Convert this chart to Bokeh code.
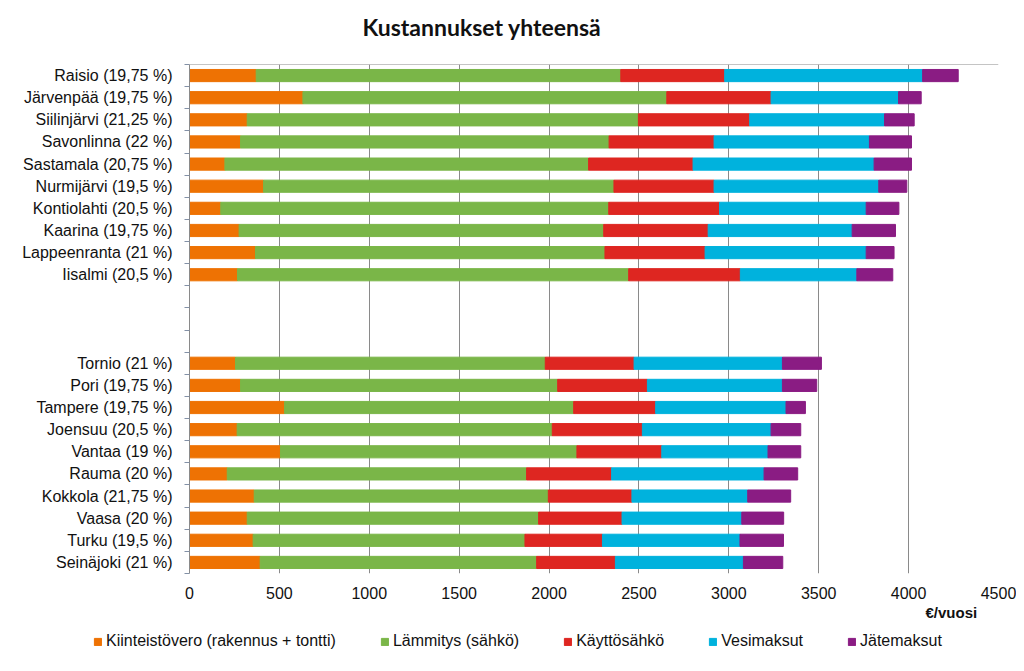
from bokeh.plotting import figure
from bokeh.layouts import column
from bokeh.models import ColumnDataSource, FixedTicker, Range1d, Span, Title
from bokeh.embed import file_html
from bokeh.resources import INLINE

# ---------------- data ----------------
top_cities = ["Raisio (19,75 %)", "Järvenpää (19,75 %)", "Siilinjärvi (21,25 %)",
              "Savonlinna (22 %)", "Sastamala (20,75 %)", "Nurmijärvi (19,5 %)",
              "Kontiolahti (20,5 %)", "Kaarina (19,75 %)", "Lappeenranta (21 %)",
              "Iisalmi (20,5 %)"]
bottom_cities = ["Tornio (21 %)", "Pori (19,75 %)", "Tampere (19,75 %)",
                 "Joensuu (20,5 %)", "Vantaa (19 %)", "Rauma (20 %)",
                 "Kokkola (21,75 %)", "Vaasa (20 %)", "Turku (19,5 %)",
                 "Seinäjoki (21 %)"]
cities = top_cities + bottom_cities

kiinteistovero = [371, 631, 321, 284, 197, 412, 174, 276, 367, 267,
                  256, 284, 529, 265, 506, 210, 360, 321, 354, 393]
lammitys = [2028, 2024, 2176, 2050, 2023, 1949, 2158, 2028, 1944, 2176,
            1723, 1764, 1608, 1753, 1649, 1665, 1636, 1621, 1512, 1538]
kayttosahko = [578, 580, 619, 584, 581, 557, 616, 581, 557, 621,
               494, 499, 456, 501, 472, 473, 465, 464, 431, 438]
vesimaksut = [1101, 709, 750, 864, 1007, 916, 816, 801, 896, 648,
              825, 751, 725, 716, 591, 848, 644, 666, 765, 712]
jatemaksut = [198, 126, 165, 234, 208, 156, 182, 241, 155, 200,
              217, 191, 108, 165, 182, 187, 239, 233, 242, 219]

series_names = ["Kiinteistövero (rakennus + tontti)", "Lämmitys (sähkö)",
                "Käyttösähkö", "Vesimaksut", "Jätemaksut"]
series_keys = ["kiinteistovero", "lammitys", "kayttosahko", "vesimaksut", "jatemaksut"]
colors = ["#EE7203", "#7AB648", "#DE2621", "#00B2DD", "#8A1C83"]
x_ticks = [0, 500, 1000, 1500, 2000, 2500, 3000, 3500, 4000, 4500]
title_text = "Kustannukset yhteensä"
x_unit = "€/vuosi"

# ---------------- layout of rows (10 + 3 empty + 10) ----------------
n_gap = 3
n_rows = len(top_cities) + n_gap + len(bottom_cities)
row_index = list(range(len(top_cities))) + \
    list(range(len(top_cities) + n_gap, n_rows))
y_centers = [r + 0.5 for r in row_index]

source = ColumnDataSource(dict(
    y=y_centers, city=cities,
    kiinteistovero=kiinteistovero, lammitys=lammitys,
    kayttosahko=kayttosahko, vesimaksut=vesimaksut, jatemaksut=jatemaksut))

GRID = "#8a8a8a"
TXT = "#111111"
FONT = "Liberation Sans"

p = figure(frame_width=809, frame_height=509,
           x_range=Range1d(0, 4500), y_range=Range1d(n_rows, 0),
           output_backend="svg", toolbar_location=None,
           min_border_left=189, min_border_right=18,
           min_border_top=64, min_border_bottom=52)
p.outline_line_color = None
p.background_fill_color = "white"

p.hbar_stack(series_keys, y="y", height=0.55, color=colors, source=source)

# spacer between frame and title
p.add_layout(Title(text=" ", text_font_size="15px", standoff=0), "above")

# title
p.title.text = title_text
p.title.align = "left"
p.title.offset = 173
p.title.text_font = "Lato"
p.title.text_font_style = "bold"
p.title.text_font_size = "23px"
p.title.text_color = "#111111"

# grid
p.xgrid.ticker = FixedTicker(ticks=x_ticks)
p.xgrid.grid_line_color = GRID
p.xgrid.grid_line_width = 1
p.xgrid.level = "underlay"
p.ygrid.visible = False

# x axis
p.xaxis.ticker = FixedTicker(ticks=x_ticks)
p.xaxis.axis_line_color = None
p.xaxis.major_tick_line_color = None
p.xaxis.minor_tick_line_color = None
p.xaxis.major_label_text_font = FONT
p.xaxis.major_label_text_font_size = "16px"
p.xaxis.major_label_text_color = TXT
p.xaxis.major_label_standoff = 7

# y axis
p.yaxis.ticker = FixedTicker(ticks=y_centers, minor_ticks=list(range(n_rows + 1)))
p.yaxis.major_label_overrides = {yc: c for yc, c in zip(y_centers, cities)}
p.yaxis.major_tick_line_color = None
p.yaxis.major_tick_out = 0
p.yaxis.major_tick_in = 0
p.yaxis.minor_tick_in = 0
p.yaxis.minor_tick_out = 5
p.yaxis.minor_tick_line_color = "#8391a6"
p.yaxis.axis_line_color = GRID
p.yaxis.major_label_text_font = FONT
p.yaxis.major_label_text_font_size = "16px"
p.yaxis.major_label_text_color = TXT
p.yaxis.major_label_standoff = 12

# top border line
p.add_layout(Span(location=0, dimension="width", line_color=GRID, line_width=1))

# unit label under the x axis
p.add_layout(Title(text=x_unit, align="left", offset=736, standoff=0,
                   text_font=FONT, text_font_style="bold", text_font_size="15px",
                   text_color=TXT), "below")

# ---------------- legend strip (separate figure under the chart) ----------------
# the same stacked series are drawn here outside the visible range, only to feed the legend
lf = figure(width=1016, height=32, x_range=Range1d(0, 4500), y_range=Range1d(100, 101),
            output_backend="svg", toolbar_location=None, min_border=0)
lf.axis.visible = False
lf.grid.visible = False
lf.outline_line_color = None
leg_x = 93
if "frame_align" in lf.properties():
    lf.frame_align = False
else:
    leg_x = 93 - 189
lf.hbar_stack(series_keys, y="y", height=0.55, color=colors, source=source,
              legend_label=series_names)

lg = lf.legend[0]
lg.orientation = "horizontal"
lg.location = (leg_x, 7)
lg.padding = 0
lg.margin = 0
lg.spacing = 44
lg.label_standoff = 4
lg.glyph_width = 9
lg.glyph_height = 9
lg.border_line_color = None
lg.background_fill_alpha = 0
lg.label_text_font = FONT
lg.label_text_font_size = "16px"
lg.label_text_color = TXT

layout = column(p, lf, spacing=0)
open("out.html", "w").write(file_html(layout, INLINE))
